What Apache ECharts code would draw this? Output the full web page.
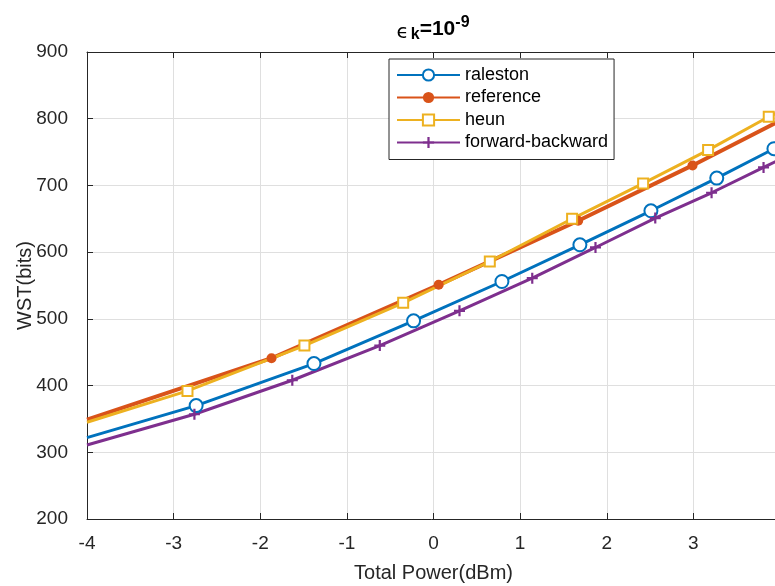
<!DOCTYPE html>
<html>
<head>
<meta charset="utf-8">
<script src="https://cdn.jsdelivr.net/npm/echarts@6/dist/echarts.min.js"></script>
<style>
  html, body { margin: 0; padding: 0; background: #fff; }
  #chart { width: 775px; height: 586px; }
</style>
</head>
<body>
<div id="chart"></div>
<script>
// Word-size threshold (bits) versus total launch power, for each integration scheme.
const xTicks = [-4, -3, -2, -1, 0, 1, 2, 3, 4];
const yTicks = [200, 300, 400, 500, 600, 700, 800, 900];

const ralestonX = [-4, -2.74, -1.38, -0.23, 0.79, 1.69, 2.51, 3.27, 3.93, 4];
const ralestonY = [322, 370, 433, 497, 556, 611, 662, 711, 755, 760];

const referenceX = [-4, -1.87, 0.06, 1.67, 2.99, 4];
const referenceY = [349, 441, 551, 647, 730, 797];

const heunX = [-4, -2.84, -1.49, -0.35, 0.65, 1.60, 2.42, 3.17, 3.87, 4];
const heunY = [345, 392, 460, 524, 586, 650, 703, 753, 803, 811];

const fbX = [-4, -2.76, -1.63, -0.62, 0.30, 1.14, 1.87, 2.56, 3.21, 3.81, 4];
const fbY = [311, 357, 408, 460, 512, 561, 607, 651, 689, 727, 739];

const seriesNames = ['raleston', 'reference', 'heun', 'forward-backward'];

// MATLAB default colour order
const colors = ['#0072BD', '#D95319', '#EDB120', '#7E2F8E'];

// Curve end points carry no marker; every interior sample does.
function toData(xs, ys) {
  return xs.map((x, i) => {
    const p = { value: [x, ys[i]] };
    if (i === 0 || i === xs.length - 1) p.symbol = 'none';
    return p;
  });
}

const plusPath = 'path://M4,0h2v4h4v2h-4v4h-2v-4h-4v-2h4z';
const textColor = '#262626';
const font = 'Liberation Sans, Arial, Helvetica, sans-serif';

const chart = echarts.init(document.getElementById('chart'), null, { renderer: 'canvas' });

function makeSeries(name, xs, ys, color, symbol, size, width, border) {
  return {
    name: name,
    type: 'line',
    data: toData(xs, ys),
    symbol: symbol,
    symbolSize: size,
    showAllSymbol: true,
    lineStyle: { color: color, width: width },
    itemStyle: { color: color, borderColor: color, borderWidth: border },
    emphasis: { disabled: true },
    animation: false,
    clip: true,
    z: 2
  };
}

const option = {
  backgroundColor: '#ffffff',
  animation: false,
  color: colors,
  title: {
    text: '{e|\u03F5}{sub|k}{b|=10}{sup|-9}',
    left: 428,
    top: 10,
    textAlign: 'center',
    textStyle: {
      fontFamily: font,
      rich: {
        e: { fontSize: 20, fontWeight: 'normal', color: '#000', lineHeight: 22, verticalAlign: 'bottom', padding: [0, 2, 0, 0], fontFamily: 'DejaVu Sans' },
        sub: { fontSize: 16, fontWeight: 'bold', color: '#000', lineHeight: 12, verticalAlign: 'bottom', fontFamily: font },
        b: { fontSize: 21, fontWeight: 'bold', color: '#000', lineHeight: 28, verticalAlign: 'middle', fontFamily: font },
        sup: { fontSize: 16, fontWeight: 'bold', color: '#000', lineHeight: 12, verticalAlign: 'top', fontFamily: font }
      }
    }
  },
  legend: {
    data: seriesNames,
    orient: 'vertical',
    left: 389,
    top: 59,
    padding: [5, 6, 6, 7],
    itemWidth: 63,
    itemHeight: 14,
    itemGap: 0.5,
    backgroundColor: '#ffffff',
    borderColor: '#262626',
    borderWidth: 1,
    borderRadius: 0,
    textStyle: { fontSize: 18, color: '#000', fontFamily: font, lineHeight: 22 },
    selectedMode: false
  },
  grid: { left: 87, width: 693, top: 52, height: 467, containLabel: false, outerBoundsMode: 'none' },
  xAxis: [{
    type: 'value',
    min: -4, max: 4, interval: 1,
    name: 'Total Power(dBm)',
    nameLocation: 'middle',
    nameGap: 44,
    nameMoveOverlap: false,
    nameTextStyle: { fontSize: 20, color: textColor, fontFamily: font },
    axisLine: { show: true, onZero: false, lineStyle: { color: textColor, width: 1 } },
    axisTick: { show: true, inside: true, length: 6, lineStyle: { color: textColor } },
    axisLabel: { fontSize: 19, color: textColor, margin: 15, fontFamily: font, showMaxLabel: true, hideOverlap: false },
    splitLine: { show: true, lineStyle: { color: '#dfdfdf', width: 1 } }
  }, {
    type: 'value',
    position: 'top',
    min: -4, max: 4, interval: 1,
    axisLine: { show: true, onZero: false, lineStyle: { color: textColor, width: 1 } },
    axisTick: { show: true, inside: true, length: 6, lineStyle: { color: textColor } },
    axisLabel: { show: false },
    splitLine: { show: false }
  }],
  yAxis: {
    type: 'value',
    min: 200, max: 900, interval: 100,
    name: 'WST(bits)',
    nameLocation: 'middle',
    nameGap: 52,
    nameMoveOverlap: false,
    nameTextStyle: { fontSize: 20, color: textColor, fontFamily: font },
    axisLine: { show: true, onZero: false, lineStyle: { color: textColor, width: 1 } },
    axisTick: { show: true, inside: true, length: 6, lineStyle: { color: textColor } },
    axisLabel: { fontSize: 19, color: textColor, margin: 19, fontFamily: font },
    splitLine: { show: true, lineStyle: { color: '#dfdfdf', width: 1 } }
  },
  series: [
    makeSeries(seriesNames[0], ralestonX, ralestonY, colors[0], 'emptyCircle', 13, 3, 3),
    makeSeries(seriesNames[1], referenceX, referenceY, colors[1], 'circle', 10, 4, 0),
    makeSeries(seriesNames[2], heunX, heunY, colors[2], 'emptyRect', 10, 3, 2),
    makeSeries(seriesNames[3], fbX, fbY, colors[3], plusPath, 11, 3, 0)
  ]
};

chart.setOption(option);
</script>
</body>
</html>
